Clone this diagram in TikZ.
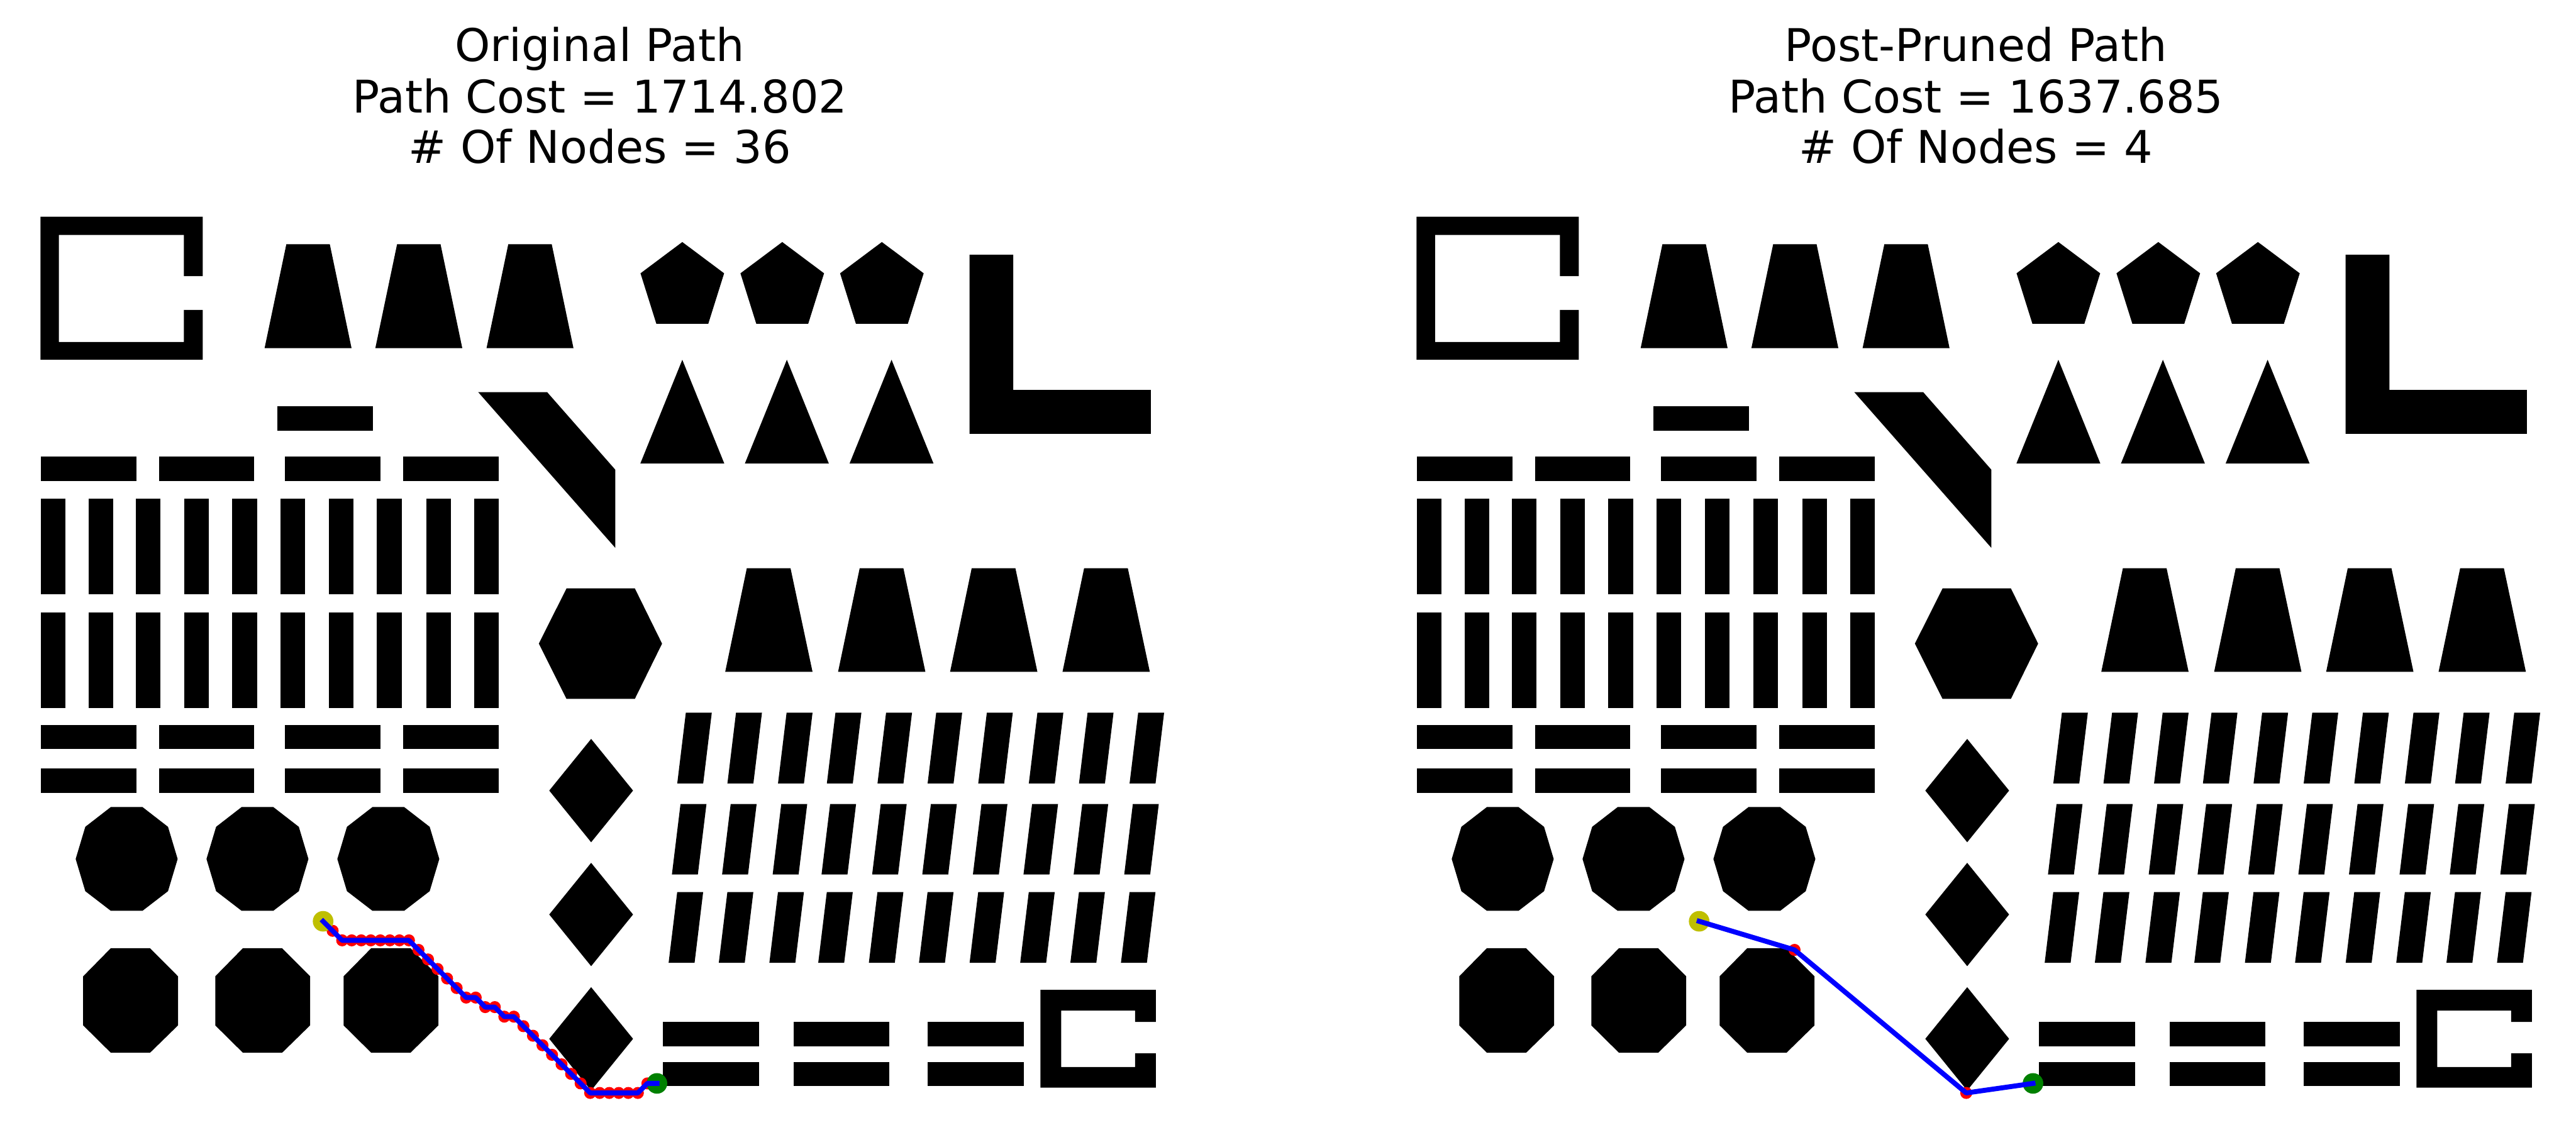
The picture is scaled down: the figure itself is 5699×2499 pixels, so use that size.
\documentclass[tikz,border=0pt]{standalone}
\usepackage{fontspec}
\setmainfont{DejaVu Sans}
\definecolor{mplyellow}{rgb}{0.75,0.75,0}
\definecolor{mplgreen}{rgb}{0,0.5,0}
\tikzset{
  obst/.style={fill=black},
  ttl/.style={anchor=base, inner sep=0pt, font=\fontsize{14.2}{17}\selectfont},
  route/.style={draw=blue, line width=1.56pt, line cap=rect, line join=round},
  waypt/.style={fill=red},
  endpt/.style={circle, inner sep=0pt, minimum size=0.228cm},
  startpt/.style={endpt, fill=mplyellow},
  goalpt/.style={endpt, fill=mplgreen}
}
% all obstacles of one map, in image pixels
\newcommand{\mapobstacles}{
  % C shapes
  \fill[obst] (89.7,479.3) -- (448.5,479.3) -- (448.5,610.8) -- (406.9,610.8) -- (406.9,519.7) -- (130.4,519.7) -- (130.4,756.6) -- (406.9,756.6) -- (406.9,685.6) -- (448.5,685.6) -- (448.5,796) -- (89.7,796) -- cycle;
  \fill[obst] (2301.8,2190) -- (2557.2,2190) -- (2557.2,2261) -- (2511.2,2261) -- (2511.2,2236) -- (2347.7,2236) -- (2347.7,2360.8) -- (2511.2,2360.8) -- (2511.2,2330.5) -- (2557.2,2330.5) -- (2557.2,2406.5) -- (2301.8,2406.5) -- cycle;
  % L shape
  \fill[obst] (2144.9,563.7) -- (2241.8,563.7) -- (2241.8,862.9) -- (2545.9,862.9) -- (2545.9,959.9) -- (2144.9,959.9) -- cycle;
  % slanted block and small bar
  \fill[obst] (1058,867.7) -- (1210.5,867.7) -- (1361.1,1039.1) -- (1361.1,1212) -- cycle;
  \fill[obst] (614,899.2) rectangle (824.9,952.9);
  % trapezoids, top row
  \foreach \dx in {0,245,491}
    \fill[obst] (633.5+\dx,540.3) -- (729.6+\dx,540.3) -- (777.7+\dx,770.2) -- (585.4+\dx,770.2) -- cycle;
  % pentagons and triangles
  \foreach \cx in {1509.5,1730.6,1951.0}
    \fill[obst] (\cx,535.5) -- (\cx+92.5,604.7) -- (\cx+57.4,716.5) -- (\cx-57.4,716.5) -- (\cx-92.5,604.7) -- cycle;
  \foreach \cx in {1509.5,1740.8,1972.4}
    \fill[obst] (\cx,796) -- (\cx+92.8,1025.4) -- (\cx-92.8,1025.4) -- cycle;
  % bars, left block
  \foreach \ya/\yb in {1009.8/1063.8,1603.8/1657.3,1700.4/1754.2}
    \foreach \xa/\xb in {90/301.4,351.4/562.4,630.6/842.4,892.4/1103.2}
      \fill[obst] (\xa,\ya) rectangle (\xb,\yb);
  \foreach \ya/\yb in {1103.8/1315.4,1354.9/1566.3}
    \foreach \xa in {90,196.2,300.7,407.9,514,620.8,727.8,834.1,943.2,1048.7}
      \fill[obst] (\xa,\ya) rectangle (\xa+54.4,\yb);
  % decagons and octagons
  \foreach \cx in {280.2,569.6,859.1}
    \fill[obst] (\cx-35.1,1785.7) -- (\cx+35.1,1785.7) -- (\cx+91.5,1829.4) -- (\cx+112.8,1900.6) -- (\cx+91.5,1971.8) -- (\cx+35.1,2015.2) -- (\cx-35.1,2015.2) -- (\cx-91.5,1971.8) -- (\cx-112.8,1900.6) -- (\cx-91.5,1829.4) -- cycle;
  \foreach \ox in {184,476.2,760.1}
    \fill[obst] (\ox+61.1,2098) -- (\ox+148,2098) -- (\ox+209.9,2160.2) -- (\ox+209.9,2268.7) -- (\ox+148,2329.2) -- (\ox+61.1,2329.2) -- (\ox,2268.7) -- (\ox,2160.2) -- cycle;
  % hexagon and diamonds
  \fill[obst] (1253.3,1301.9) -- (1404.5,1301.9) -- (1464.7,1424.1) -- (1404.5,1546.3) -- (1253.3,1546.3) -- (1192.1,1424.1) -- cycle;
  \foreach \yt in {1634.9,1909.1,2184.2}
    \fill[obst] (1307.8,\yt) -- (1400.5,\yt+114.3) -- (1307.8,\yt+228.6) -- (1215.1,\yt+114.3) -- cycle;
  % trapezoids, lower row
  \foreach \xt in {1652.2,1901.9,2149.7,2398.4}
    \fill[obst] (\xt,1257.2) -- (\xt+96.7,1257.2) -- (\xt+145.4,1486.6) -- (\xt-47.8,1486.6) -- cycle;
  % slanted bars
  \foreach \ya/\yb/\sh in {1576.9/1733.5/0,1779.1/1934.8/11.8,1973.8/2130.4/19.1}
    \foreach \xt in {1517.3,1628.3,1740.2,1848.3,1960.3,2071.2,2183.2,2295.1,2406.1,2518.0}
      \fill[obst] (\xt-\sh,\ya) -- (\xt-\sh+57.4,\ya) -- (\xt-\sh+38.4,\yb) -- (\xt-\sh-19,\yb) -- cycle;
  % bars, lower right
  \foreach \ya/\yb in {2261.2/2315.1,2349.9/2402.9}
    \foreach \xa/\xb in {1466.6/1679,1756.5/1967.9,2052.1/2264.5}
      \fill[obst] (\xa,\ya) rectangle (\xb,\yb);
}

\begin{document}
\begin{tikzpicture}[x=0.005cm, y=-0.005cm]
  \useasboundingbox (0,0) rectangle (5699,2499);
  \fill[white] (0,0) rectangle (5699,2499);

  % titles
  \node[ttl] (ttlL1) at (1327,135.7) {Original Path};
  \node[ttl] (ttlL2) at (1327,249.4) {Path Cost = 1714.802};
  \node[ttl] (ttlL3) at (1327,360.8) {\# Of Nodes = 36};
  \node[ttl] (ttlR1) at (4371.4,135.7) {Post-Pruned Path};
  \node[ttl] (ttlR2) at (4371.4,249.4) {Path Cost = 1637.685};
  \node[ttl] (ttlR3) at (4371.4,360.8) {\# Of Nodes = 4};

  % original path
  \mapobstacles
  \begin{scope}[shift={(714.8,2038.4)}, x=0.1056cm, y=-0.1056cm]
    \foreach \i/\j in {0/0,1/1,2/2,3/2,4/2,5/2,6/2,7/2,8/2,9/2,10/3,11/4,12/5,13/6,14/7,15/8,16/8,17/9,18/9,19/10,20/10,21/11,22/12,23/13,24/14,25/15,26/16,27/17,28/18,29/18,30/18,31/18,32/18,33/18,34/17,35/17}
      \fill[waypt] (\i,\j) circle[radius=0.0665cm];
    \node[startpt] (Ls) at (0,0) {};
    \node[goalpt] (Lg) at (35,17) {};
    \coordinate (La) at (2,2);
    \coordinate (Lb) at (9,2);
    \coordinate (Lc) at (15,8);
    \coordinate (Ld) at (16,8);
    \coordinate (Le) at (17,9);
    \coordinate (Lf) at (18,9);
    \coordinate (Lh) at (19,10);
    \coordinate (Li) at (20,10);
    \coordinate (Lj) at (28,18);
    \coordinate (Lk) at (33,18);
    \coordinate (Lm) at (34,17);
    \draw[route] (Ls.center) -- (La) -- (Lb) -- (Lc) -- (Ld) -- (Le) -- (Lf) -- (Lh) -- (Li) -- (Lj) -- (Lk) -- (Lm) -- (Lg.center);
  \end{scope}

  % pruned path
  \begin{scope}[shift={(3044.3,0)}]
    \mapobstacles
    \begin{scope}[shift={(714.8,2038.4)}, x=0.1056cm, y=-0.1056cm]
      \foreach \i/\j in {0/0,10/3,28/18,35/17}
        \fill[waypt] (\i,\j) circle[radius=0.0665cm];
      \node[startpt] (Rs) at (0,0) {};
      \node[goalpt] (Rg) at (35,17) {};
      \coordinate (Ra) at (10,3);
      \coordinate (Rb) at (28,18);
      \draw[route] (Rs.center) -- (Ra) -- (Rb) -- (Rg.center);
    \end{scope}
  \end{scope}
\end{tikzpicture}
\end{document}
